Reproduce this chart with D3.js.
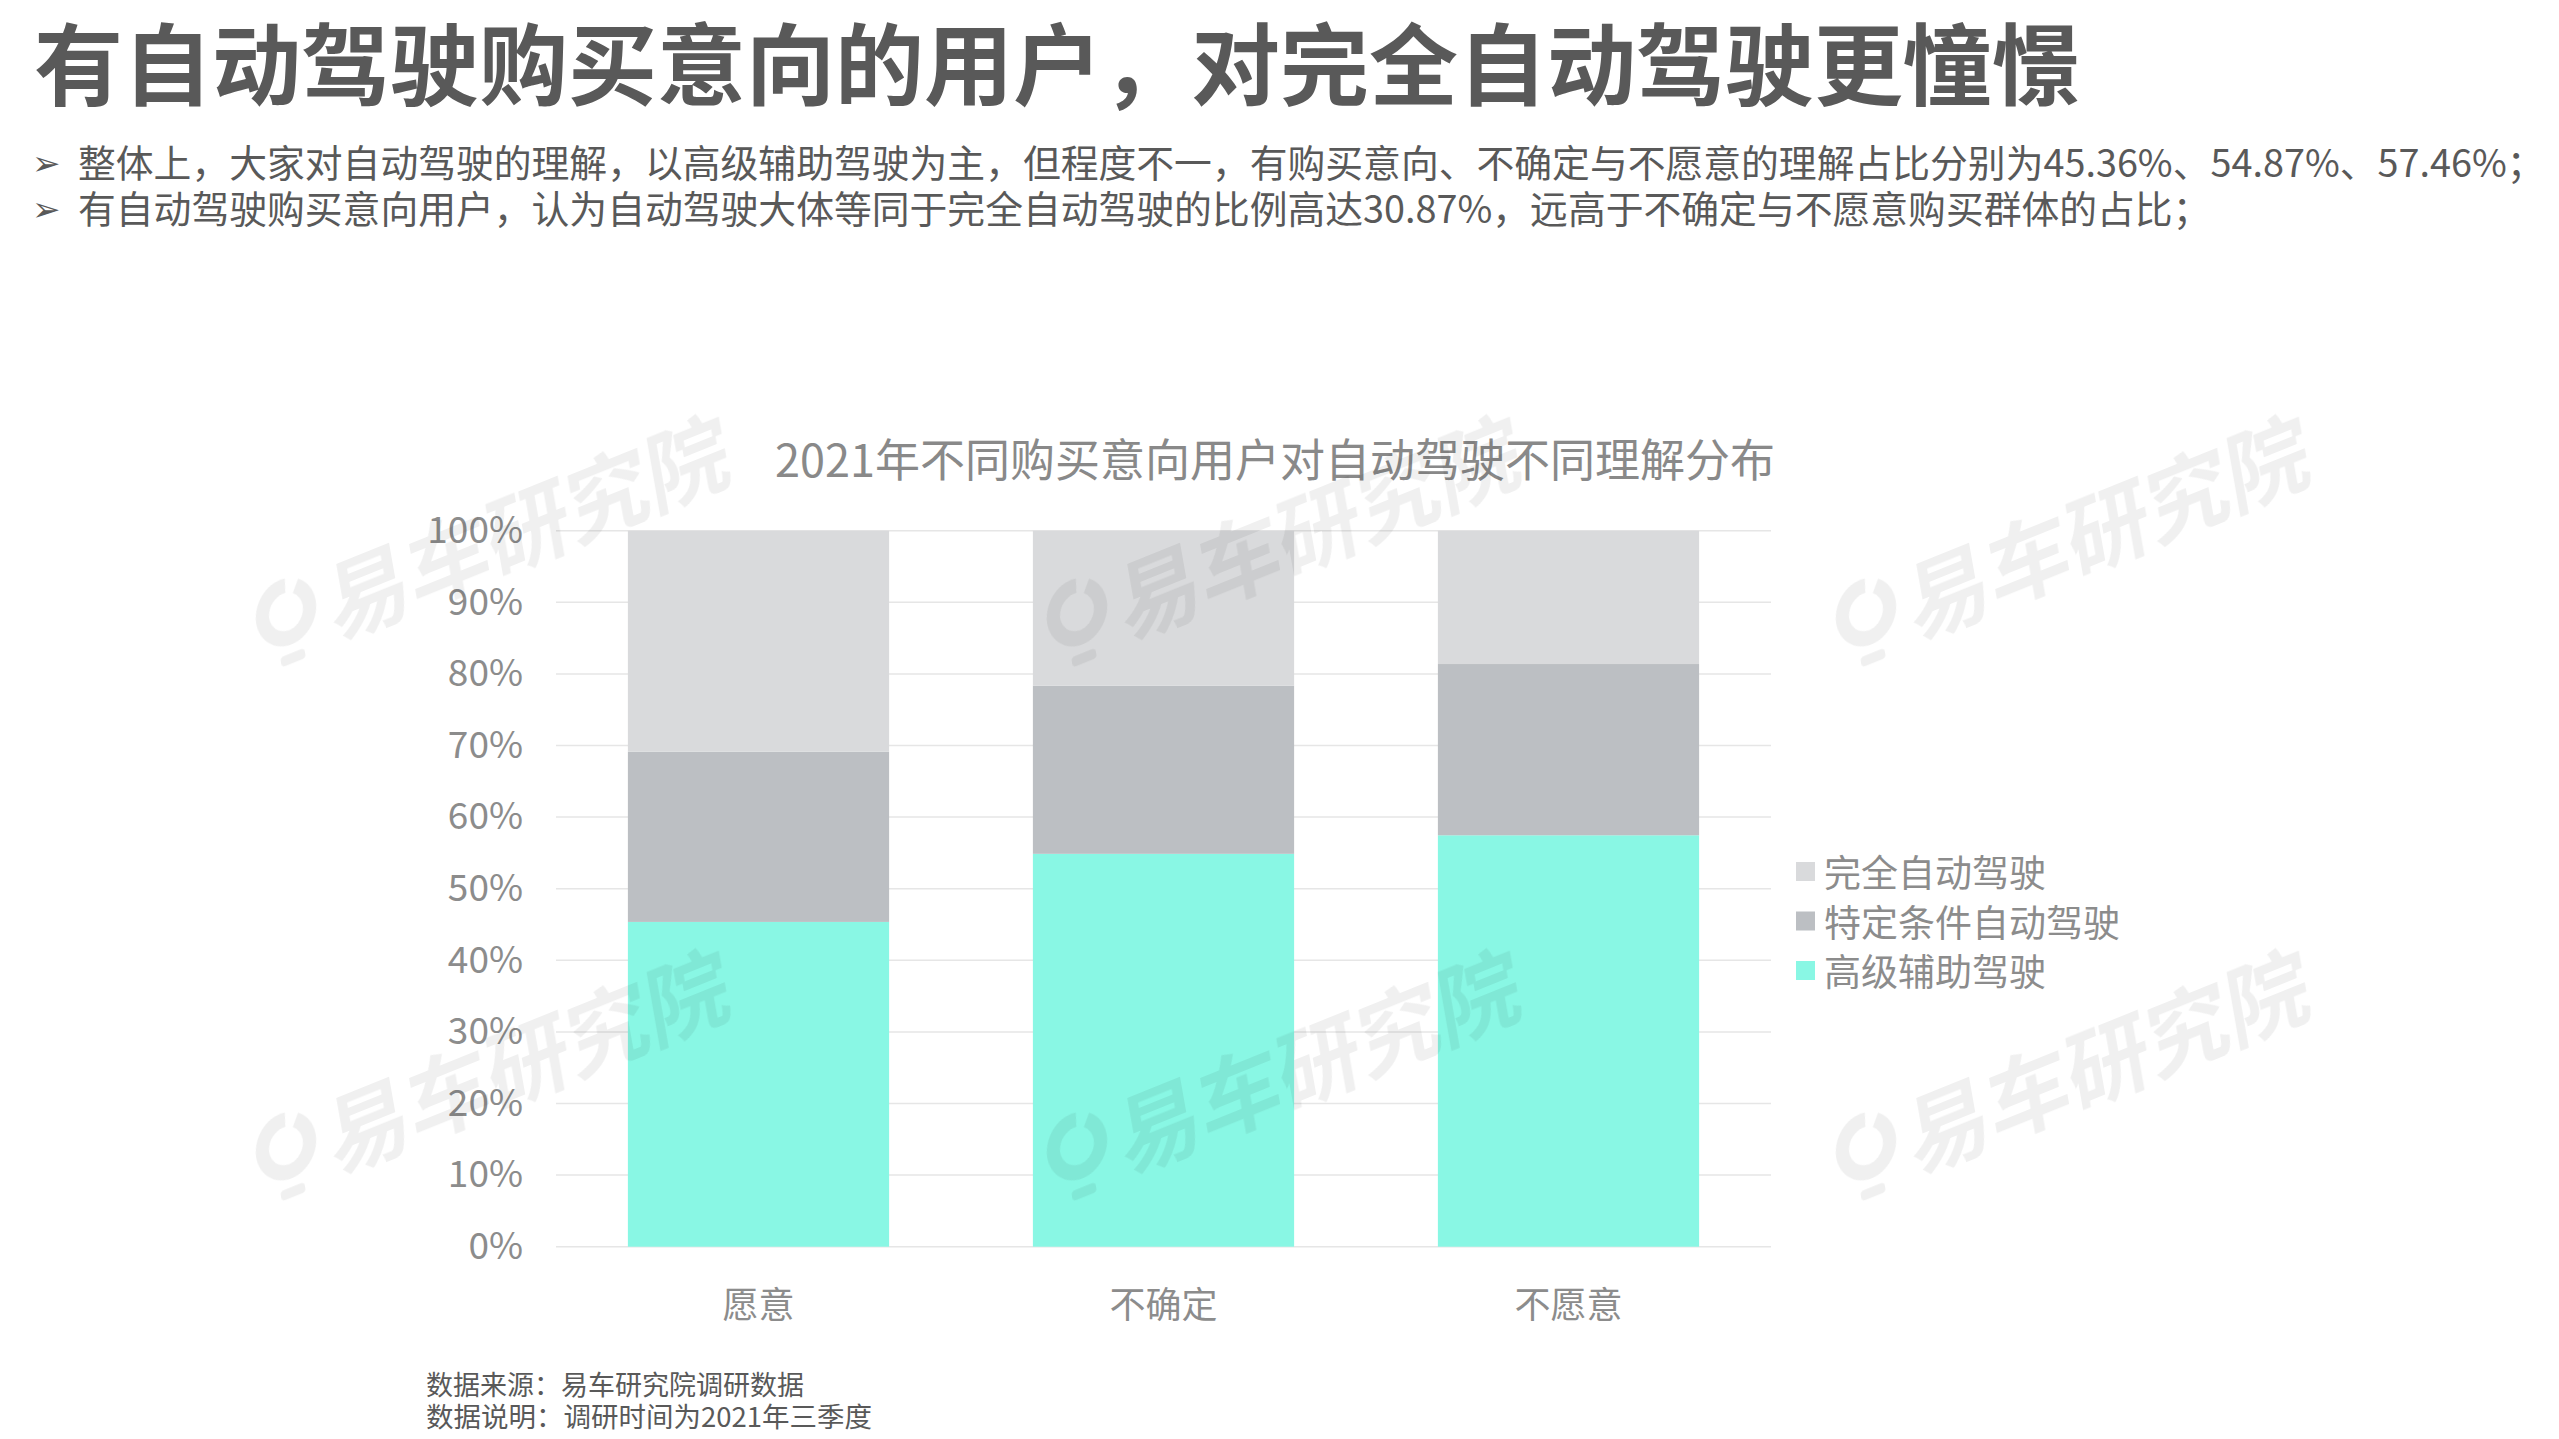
<!DOCTYPE html>
<html><head><meta charset="utf-8">
<script src="https://cdn.jsdelivr.net/npm/d3@7"></script>
<style>
html,body{margin:0;padding:0;background:#fff;}
svg{display:block;font-family:"Noto Sans CJK SC","Noto Sans",sans-serif;}
</style></head>
<body>
<script>
const categories = ["愿意", "不确定", "不愿意"];
const seriesNames = ["高级辅助驾驶", "特定条件自动驾驶", "完全自动驾驶"];
const advancedAssist = [45.36, 54.87, 57.46];
const conditionalAuto = [23.77, 23.48, 23.92];
const fullAuto = [30.87, 21.65, 18.62];
const yTickValues = [0, 10, 20, 30, 40, 50, 60, 70, 80, 90, 100];
const colors = ["#89F7E4", "#BCBFC3", "#D9DADC"];
const legendOrder = ["完全自动驾驶", "特定条件自动驾驶", "高级辅助驾驶"];

const W = 2559, H = 1439;
const svg = d3.select("body").append("svg").attr("width", W).attr("height", H);
svg.append("rect").attr("width", W).attr("height", H).attr("fill", "#fff");

// Title
svg.append("text").attr("x", 34).attr("y", 98)
  .attr("font-size", 89).attr("font-weight", 700).attr("fill", "#595959")
  .text("有自动驾驶购买意向的用户，对完全自动驾驶更憧憬");

const bullets = [
  "整体上，大家对自动驾驶的理解，以高级辅助驾驶为主，但程度不一，有购买意向、不确定与不愿意的理解占比分别为45.36%、54.87%、57.46%；",
  "有自动驾驶购买意向用户，认为自动驾驶大体等同于完全自动驾驶的比例高达30.87%，远高于不确定与不愿意购买群体的占比；"
];
bullets.forEach((b, i) => {
  const y = 177 + i * 46;
  svg.append("text").attr("x", 32).attr("y", y - 2).attr("font-size", 34)
    .attr("font-family", "DejaVu Sans").attr("fill", "#595959").text("➢");
  svg.append("text").attr("x", 78).attr("y", y).attr("font-size", 37.8)
    .attr("fill", "#595959").text(b);
});

// Chart
const x = d3.scaleBand().domain(categories).range([556, 1771])
  .paddingInner(0.355).paddingOuter(0.1775);
const y = d3.scaleLinear().domain([0, 100]).range([1246.7, 530.7]);

svg.append("text").attr("x", 1275).attr("y", 477).attr("text-anchor", "middle")
  .attr("font-size", 45).attr("fill", "#898989")
  .text("2021年不同购买意向用户对自动驾驶不同理解分布");

// gridlines
svg.append("g").selectAll("line").data(yTickValues).join("line")
  .attr("x1", 556).attr("x2", 1771)
  .attr("y1", d => y(d)).attr("y2", d => y(d))
  .attr("stroke", "#e6e6e6").attr("stroke-width", 1.5);

const rows = categories.map((c, i) => ({
  cat: c,
  "高级辅助驾驶": advancedAssist[i],
  "特定条件自动驾驶": conditionalAuto[i],
  "完全自动驾驶": fullAuto[i]
}));
const stacked = d3.stack().keys(seriesNames)(rows);
const color = d3.scaleOrdinal().domain(seriesNames).range(colors);

svg.append("g").selectAll("g").data(stacked).join("g")
  .attr("fill", d => color(d.key))
  .selectAll("rect").data(d => d).join("rect")
  .attr("x", d => x(d.data.cat)).attr("width", x.bandwidth())
  .attr("y", d => y(d[1])).attr("height", d => y(d[0]) - y(d[1]));

// y axis
const yAxis = svg.append("g").attr("transform", "translate(556,0)")
  .call(d3.axisLeft(y).tickValues(yTickValues).tickFormat(d => d + "%").tickSize(0).tickPadding(33));
yAxis.select(".domain").remove();
yAxis.selectAll("text").attr("font-size", 37).attr("fill", "#8c8c8c")
  .attr("font-family", "\"Noto Sans CJK SC\",sans-serif");

// x axis
const xAxis = svg.append("g").attr("transform", "translate(0,1246.7)")
  .call(d3.axisBottom(x).tickSize(0));
xAxis.select(".domain").remove();
xAxis.selectAll("text").attr("y", 55).attr("dy", null).attr("dominant-baseline", "central")
  .attr("font-size", 36).attr("fill", "#8c8c8c")
  .attr("font-family", "\"Noto Sans CJK SC\",sans-serif");

// legend
const lg = svg.append("g").selectAll("g").data(legendOrder).join("g")
  .attr("transform", (d, i) => `translate(1796,${862 + i * 49.5})`);
lg.append("rect").attr("width", 19).attr("height", 19).attr("fill", d => color(d));
lg.append("text").attr("x", 28).attr("y", 9).attr("dominant-baseline", "central")
  .attr("font-size", 37).attr("fill", "#8c8c8c").text(d => d);

// footer
svg.append("text").attr("x", 426).attr("y", 1383).attr("dominant-baseline", "central")
  .attr("font-size", 27).attr("fill", "#595959").text("数据来源：易车研究院调研数据");
svg.append("text").attr("x", 426).attr("y", 1415).attr("dominant-baseline", "central")
  .attr("font-size", 27.5).attr("fill", "#595959").text("数据说明：调研时间为2021年三季度");

// watermarks
const wmPos = [[286, 612], [1077, 612], [1866, 612], [286, 1146], [1077, 1146], [1866, 1146]];
const wm = svg.append("g").attr("opacity", 0.06).attr("pointer-events", "none")
  .selectAll("g").data(wmPos).join("g")
  .attr("transform", d => `translate(${d[0]},${d[1]}) rotate(-22) skewX(-12)`);
wm.append("path")
  .attr("d", d3.arc()({innerRadius: 18, outerRadius: 32, startAngle: 0.6, endAngle: 2 * Math.PI + 0.15}))
  .attr("fill", "#000");
wm.append("rect").attr("x", -14).attr("y", 40).attr("width", 26).attr("height", 10).attr("rx", 4).attr("fill", "#000");
wm.append("text").attr("x", 44).attr("y", 44).attr("font-size", 86).attr("font-weight", 700)
  .attr("fill", "#000").text("易车研究院");
</script>
</body></html>
